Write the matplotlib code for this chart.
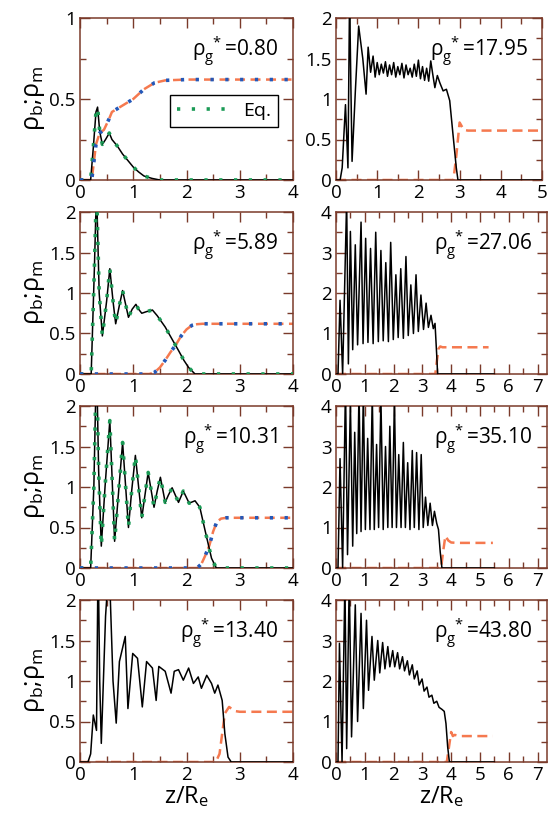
import matplotlib
matplotlib.use("Agg")
import matplotlib.pyplot as plt
from matplotlib.ticker import MultipleLocator, FuncFormatter

plt.rcParams['font.family'] = ['Open Sans', 'DejaVu Sans']
plt.rcParams['mathtext.fontset'] = 'custom'
plt.rcParams['mathtext.rm'] = 'Open Sans'
plt.rcParams['mathtext.it'] = 'Open Sans'
plt.rcParams['mathtext.bf'] = 'Open Sans'

# ---- data ----
# left column: rho_g* = 0.80, 5.89, 10.31, 13.40 (xlim 0-4)
b1_z = [0, 0.2, 0.25, 0.3, 0.33, 0.37, 0.42, 0.48, 0.55, 0.6, 0.7, 0.8, 0.9, 1.0, 1.1, 1.2, 1.35, 1.5, 4.0]
b1_y = [0, 0, 0.2, 0.42, 0.45, 0.3, 0.22, 0.25, 0.29, 0.25, 0.21, 0.16, 0.12, 0.08, 0.05, 0.025, 0.01, 0, 0]
m1_z = [0, 0.22, 0.3, 0.37, 0.45, 0.55, 0.6, 0.7, 0.85, 1.0, 1.2, 1.4, 1.6, 2.0, 4.0]
m1_y = [0, 0, 0.22, 0.29, 0.31, 0.38, 0.42, 0.44, 0.47, 0.5, 0.56, 0.6, 0.615, 0.62, 0.62]

b2_z = [0, 0.21, 0.27, 0.31, 0.36, 0.42, 0.5, 0.56, 0.62, 0.67, 0.74, 0.8, 0.86, 0.91, 0.98, 1.05, 1.1, 1.16, 1.25,
        1.36, 1.45, 1.6, 1.72, 1.85, 1.95, 2.04, 2.16, 4.0]
b2_y = [0, 0, 1.3, 2.3, 1.0, 0.47, 0.9, 1.30, 0.9, 0.62, 0.85, 1.03, 0.85, 0.70, 0.8, 0.86, 0.8, 0.75, 0.77,
        0.79, 0.72, 0.58, 0.44, 0.29, 0.17, 0.08, 0, 0]
m2_z = [0, 1.3, 1.4, 1.5, 1.6, 1.7, 1.8, 1.9, 2.0, 2.1, 2.2, 2.3, 4.0]
m2_y = [0, 0, 0.02, 0.08, 0.17, 0.27, 0.36, 0.47, 0.55, 0.6, 0.615, 0.62, 0.62]

b3_z = [0, 0.2, 0.26, 0.31, 0.35, 0.40, 0.47, 0.56, 0.65, 0.72, 0.8, 0.91, 0.97, 1.04, 1.16, 1.22, 1.28, 1.39,
        1.45, 1.51, 1.6, 1.66, 1.73, 1.85, 1.94, 2.05, 2.16, 2.25, 2.35, 2.47, 2.56, 4.0]
b3_y = [0, 0, 1.0, 2.6, 1.2, 0.27, 1.0, 1.82, 0.33, 0.9, 1.55, 0.5, 0.95, 1.39, 0.62, 0.9, 1.18, 0.75,
        0.95, 1.12, 0.81, 0.9, 0.99, 0.81, 0.95, 0.8, 0.83, 0.75, 0.46, 0.12, 0, 0]
m3_z = [0, 2.2, 2.28, 2.35, 2.43, 2.5, 2.57, 2.65, 2.75, 4.0]
m3_y = [0, 0, 0.05, 0.15, 0.28, 0.45, 0.57, 0.61, 0.62, 0.62]

b4_z = [0, 0.15, 0.2, 0.25, 0.31, 0.34, 0.37, 0.40, 0.48, 0.53, 0.56, 0.62, 0.68, 0.74, 0.85, 0.9, 0.99, 1.08,
        1.17, 1.25, 1.36, 1.43, 1.48, 1.6, 1.71, 1.77, 1.85, 1.94, 2.04, 2.13, 2.22, 2.28, 2.38, 2.47, 2.53,
        2.59, 2.67, 2.72, 2.78, 2.84, 4.0]
b4_y = [0, 0, 0.1, 0.58, 0.39, 2.6, 1.0, 0.23, 1.8, 2.3, 2.2, 1.0, 0.48, 1.24, 1.55, 0.66, 1.34, 1.28,
        0.68, 1.24, 1.16, 0.76, 1.18, 1.12, 0.85, 1.12, 1.14, 1.01, 1.16, 0.97, 1.05, 0.91, 1.07, 0.97, 0.85,
        0.95, 0.76, 0.35, 0.06, 0, 0]
m4_z = [0, 2.55, 2.62, 2.67, 2.72, 2.8, 2.9, 3.0, 4.0]
m4_y = [0, 0, 0.1, 0.35, 0.6, 0.68, 0.63, 0.62, 0.62]

# right column: rho_g* = 17.95, 27.06, 35.10, 43.80
b5_z = [0, 0.1, 0.15, 0.23, 0.29, 0.33, 0.36, 0.39, 0.47, 0.55, 0.65, 0.73, 0.78, 0.84, 0.9,
        0.95, 1.0, 1.05, 1.1, 1.15, 1.2, 1.25, 1.3, 1.35, 1.4, 1.45, 1.5, 1.55, 1.6, 1.65, 1.7,
        1.75, 1.8, 1.85, 1.9, 1.95, 2.0, 2.05, 2.1, 2.15, 2.2, 2.25, 2.3, 2.35, 2.4, 2.46, 2.52,
        2.6, 2.68, 2.76, 2.84, 2.92, 2.96, 5.0]
b5_y = [0, 0, 0.15, 0.93, 0.15, 2.3, 1.2, 0.23, 1.1, 1.9, 1.5, 1.06, 1.64, 1.33, 1.53,
        1.27, 1.45, 1.3, 1.43, 1.32, 1.46, 1.28, 1.42, 1.3, 1.45, 1.27, 1.4, 1.3, 1.44, 1.26, 1.42,
        1.3, 1.38, 1.27, 1.43, 1.28, 1.48, 1.25, 1.4, 1.23, 1.38, 1.22, 1.47, 1.3, 1.14, 1.29, 1.2,
        1.1, 1.12, 0.98, 0.56, 0.15, 0, 0]
m5_z = [0, 2.85, 2.92, 3.0, 3.1, 3.2, 5.0]
m5_y = [0, 0, 0.3, 0.71, 0.62, 0.61, 0.61]

b6_z = [0, 0.07, 0.14, 0.23, 0.37, 0.43, 0.5, 0.58, 0.67, 0.75, 0.87, 0.94, 1.03, 1.11, 1.2, 1.29, 1.38,
        1.47, 1.56, 1.64, 1.73, 1.82, 1.9, 1.99, 2.08, 2.16, 2.25, 2.34, 2.43, 2.51, 2.6, 2.69, 2.78,
        2.86, 2.95, 3.04, 3.13, 3.21, 3.3, 3.38, 3.44, 3.5, 3.53, 5.5]
b6_y = [0, 0, 1.82, 0, 4.3, 0.25, 3.52, 0.6, 3.19, 0.72, 3.75, 0.75, 3.35, 0.78, 3.1, 0.75, 3.5,
        0.8, 3.05, 0.82, 2.75, 0.8, 3.25, 0.85, 2.45, 0.9, 2.6, 0.88, 2.9, 0.95, 2.2, 1.0, 2.45,
        1.05, 1.95, 1.1, 1.75, 1.15, 1.45, 1.12, 1.25, 0.45, 0, 0]
m6_z = [0, 3.45, 3.5, 3.56, 3.62, 3.7, 5.3]
m6_y = [0, 0, 0.3, 0.62, 0.68, 0.66, 0.66]

b7_z = [0, 0.07, 0.14, 0.23, 0.33, 0.4, 0.5, 0.58, 0.65, 0.72, 0.8, 0.87, 0.95, 1.02, 1.1, 1.18, 1.26,
        1.33, 1.41, 1.48, 1.56, 1.64, 1.72, 1.8, 1.87, 1.95, 2.03, 2.1, 2.18, 2.26, 2.34, 2.41, 2.49,
        2.57, 2.65, 2.72, 2.8, 2.88, 2.96, 3.03, 3.11, 3.19, 3.27, 3.35, 3.42, 3.5, 3.56, 3.62, 3.68, 5.5]
b7_y = [0, 0, 2.7, 0, 4.5, 0.33, 4.1, 0.54, 3.35, 0.85, 4.4, 0.9, 4.3, 0.95, 3.2, 0.95, 4.3,
        0.95, 3.05, 1.0, 4.2, 0.95, 3.0, 1.0, 3.5, 1.0, 4.2, 1.0, 2.8, 1.0, 3.1, 1.0, 2.6,
        0.95, 2.9, 1.0, 2.85, 0.95, 2.8, 1.0, 1.75, 1.05, 1.6, 1.05, 1.4, 1.1, 0.95, 0.4, 0, 0]
m7_z = [0, 3.65, 3.72, 3.8, 3.9, 4.0, 4.2, 5.45]
m7_y = [0, 0, 0.4, 0.79, 0.68, 0.63, 0.62, 0.62]

b8_z = [0, 0.07, 0.12, 0.21, 0.31, 0.37, 0.46, 0.54, 0.67, 0.75, 0.87, 0.95, 1.06, 1.13, 1.25, 1.33,
        1.45, 1.52, 1.62, 1.7, 1.8, 1.87, 1.97, 2.04, 2.14, 2.21, 2.31, 2.38, 2.48, 2.55, 2.65, 2.72,
        2.82, 2.89, 2.99, 3.06, 3.16, 3.23, 3.33, 3.4, 3.5, 3.58, 3.68, 3.76, 3.82, 3.88, 3.94, 5.5]
b8_y = [0, 0, 2.93, 0, 4.5, 0.33, 4.5, 0.62, 3.88, 1.0, 3.67, 1.32, 3.5, 1.77, 3.1, 2.02,
        3.0, 2.2, 2.95, 2.3, 2.85, 2.35, 2.75, 2.35, 2.7, 2.3, 2.6, 2.25, 2.5, 2.15, 2.4, 2.05,
        2.25, 1.9, 2.05, 1.75, 1.85, 1.6, 1.65, 1.45, 1.5, 1.35, 1.3, 1.25, 0.95, 0.37, 0, 0]
m8_z = [0, 3.85, 3.92, 4.0, 4.06, 4.12, 4.3, 5.45]
m8_y = [0, 0, 0.35, 0.74, 0.64, 0.67, 0.64, 0.64]

labels = ['0.80', '5.89', '10.31', '13.40', '17.95', '27.06', '35.10', '43.80']
bulk = [(b1_z, b1_y), (b2_z, b2_y), (b3_z, b3_y), (b4_z, b4_y),
        (b5_z, b5_y), (b6_z, b6_y), (b7_z, b7_y), (b8_z, b8_y)]
menis = [(m1_z, m1_y), (m2_z, m2_y), (m3_z, m3_y), (m4_z, m4_y),
         (m5_z, m5_y), (m6_z, m6_y), (m7_z, m7_y), (m8_z, m8_y)]
xmax = [4, 4, 4, 4, 5, 7.33, 7.33, 7.33]
ymax = [1, 2, 2, 2, 2, 4, 4, 4]
has_eq = [True, True, True, False, False, False, False, False]

spine_c = '#7a3a2a'
orange = '#f5794f'
blue = '#2458b8'
green = '#1a9a55'

fig = plt.figure(figsize=(5.48, 8.19), dpi=100)
W, H = 548.0, 819.0
tops = [18, 212, 406, 600]
ph = 162

fmt = FuncFormatter(lambda v, p: '%g' % v)

for i in range(8):
    col = i // 4
    row = i % 4
    left = 80 if col == 0 else 336
    width = 213 if col == 0 else 211
    if i == 4:
        width = 206   # keep the "5" label inside the picture
    ax = fig.add_axes([left / W, 1 - (tops[row] + ph) / H, width / W, ph / H])

    z, y = bulk[i]
    mz, my = menis[i]
    ax.plot(mz, my, color=orange, lw=1.8, dashes=(4, 2.2), zorder=2)
    ax.plot(z, y, color='black', lw=1.1, zorder=3)
    if has_eq[i]:
        ax.plot(z, y, color=green, lw=2.6, dashes=(0.9, 3.2), label='Eq.', zorder=4)
        ax.plot(mz, my, color=blue, lw=2.6, dashes=(0.9, 3.2), zorder=4)

    ax.set_xlim(0, xmax[i])
    ax.set_ylim(0, ymax[i])
    ax.xaxis.set_major_locator(MultipleLocator(1))
    ax.xaxis.set_minor_locator(MultipleLocator(0.5))
    if ymax[i] == 4:
        ax.yaxis.set_major_locator(MultipleLocator(1))
        ax.yaxis.set_minor_locator(MultipleLocator(0.5))
    else:
        ax.yaxis.set_major_locator(MultipleLocator(0.5))
        ax.yaxis.set_minor_locator(MultipleLocator(0.25))
    ax.xaxis.set_major_formatter(fmt)
    ax.yaxis.set_major_formatter(fmt)
    ax.tick_params(which='both', direction='in', top=True, right=True,
                   color=spine_c, width=1.0, labelsize=13.5, pad=3)
    ax.tick_params(which='major', length=7)
    ax.tick_params(which='minor', length=4)
    for s in ax.spines.values():
        s.set_color(spine_c)
        s.set_linewidth(1.1)

    ax.text(0.93, 0.79, r'$\rho_g^{\ *}$=' + labels[i], transform=ax.transAxes,
            ha='right', va='center', fontsize=15)

    if col == 0:
        ax.set_ylabel(r'$\rho_b$;$\rho_m$', fontsize=18, labelpad=2)
    if row == 3:
        ax.set_xlabel(r'z/R$_e$', fontsize=17, labelpad=0)
    if i == 0:
        leg = ax.legend(loc='upper right', bbox_to_anchor=(0.93, 0.525), borderaxespad=0,
                        fontsize=14, handlelength=2.6, handletextpad=0.8, fancybox=False,
                        framealpha=1, borderpad=0.35)
        leg.get_frame().set_edgecolor('black')
        leg.get_frame().set_linewidth(1.0)

fig.savefig('out.png', dpi=100)
